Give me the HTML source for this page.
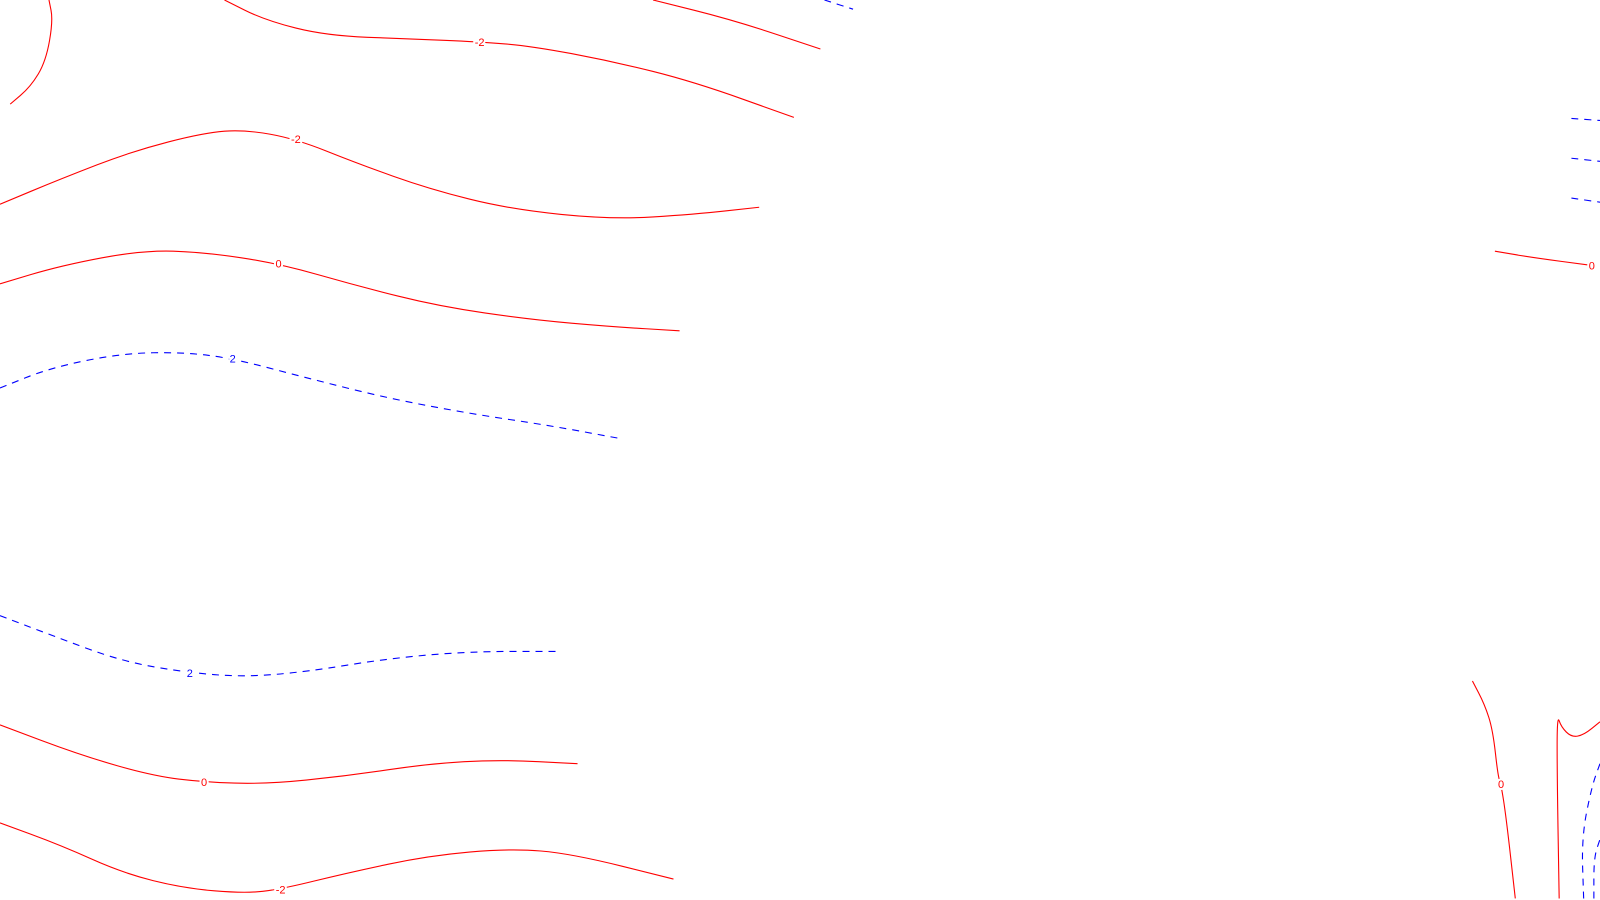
<!DOCTYPE html>
<html><head><meta charset="utf-8"><style>
html,body{margin:0;padding:0;background:#fff;width:1600px;height:900px;overflow:hidden}
svg text{font-family:"Liberation Sans",sans-serif;font-size:11px}
</style></head><body>
<svg id="chart" width="1600" height="900" viewBox="0 0 1600 900"></svg>
<script>
const levels = [-2, -2, -2, 2, -2, 0, 2, 2, 0, -2, 0, 2, 2, 2, 0, -2, 2, 2, 2];
const contourX = [
 [48,52,45,30,10],
 [220,260,320,400,470,520,600,680,778],
 [640,720,804],
 [808,836],
 [0,60,130,200,240,290,350,420,500,600,680,744],
 [0,60,140,200,273,350,430,520,600,666],
 [0,50,120,180,228,300,380,460,540,605],
 [0,50,120,186,240,300,380,460,550],
 [0,80,150,200,260,340,420,490,566],
 [0,60,120,180,240,275,340,420,500,560,660],
 [1465,1500,1560],
 [1540,1568],[1540,1568],[1540,1568],
 [1443,1455,1463,1468,1471,1476,1485],
 [1528,1526,1526,1530,1540,1552,1568],
 [1552,1550,1560,1568],
 [1562,1562,1568],
 [1578,1578]
];
const contourY = [
 [0,20,60,85,102],
 [0,20,35,38,41,45,60,80,115],
 [0,20,48],
 [0,9],
 [200,175,148,130,127,136,160,185,205,215,210,203],
 [278,260,245,247,258,280,300,313,320,324],
 [380,360,346,345,351,370,390,405,417,429],
 [603,622,648,659,663,658,645,638,638],
 [710,740,760,766,768,760,748,744,748],
 [806,828,855,870,875,871,855,838,831,836,861],
 [246,252,260],
 [116,118],[155,158],[194,198],
 [667,690,715,760,768,800,880],
 [880,760,700,712,722,720,707],
 [880,820,770,748],
 [880,840,822],
 [880,860]
];
const labelIdx = [-1,4,-1,-1,5,4,4,3,3,5,2,-1,-1,-1,4,-1,-1,-1,-1];
const xScale = v => v * 1.0204;
const yScale = v => v * 1.021;
const svg = document.getElementById('chart');
const NS = 'http://www.w3.org/2000/svg';
contourX.forEach((xs, i) => {
  const ys = contourY[i];
  const lvl = levels[i];
  const col = lvl > 0 ? '#0000ff' : '#ff0000';
  let d = '';
  xs.forEach((x, j) => {
    const px = xScale(x), py = yScale(ys[j]);
    if (j === 0) d += 'M' + px + ',' + py;
    else {
      const x0 = xScale(xs[j-1]), y0 = yScale(ys[j-1]);
      d += ' Q' + x0 + ',' + y0 + ' ' + ((x0 + px) / 2) + ',' + ((y0 + py) / 2);
      if (j === xs.length - 1) d += ' L' + px + ',' + py;
    }
  });
  const p = document.createElementNS(NS, 'path');
  p.setAttribute('d', d);
  p.setAttribute('fill', 'none');
  p.setAttribute('stroke', col);
  p.setAttribute('stroke-width', '1.1');
  if (lvl > 0) p.setAttribute('stroke-dasharray', '7,6');
  
  
  svg.appendChild(p);
  const li = labelIdx[i];
  if (li >= 0) {
    const t = document.createElementNS(NS, 'text');
    t.setAttribute('x', xScale(xs[li]));
    t.setAttribute('y', yScale(ys[li]) + 4);
    t.setAttribute('text-anchor', 'middle');
    t.setAttribute('fill', col);
    t.setAttribute('stroke', '#fff');
    t.setAttribute('stroke-width', '4');
    t.setAttribute('paint-order', 'stroke');
    t.textContent = lvl < 0 ? '-' + Math.abs(lvl) : String(lvl);
    
    
    svg.appendChild(t);
  }
});
</script>
</body></html>
